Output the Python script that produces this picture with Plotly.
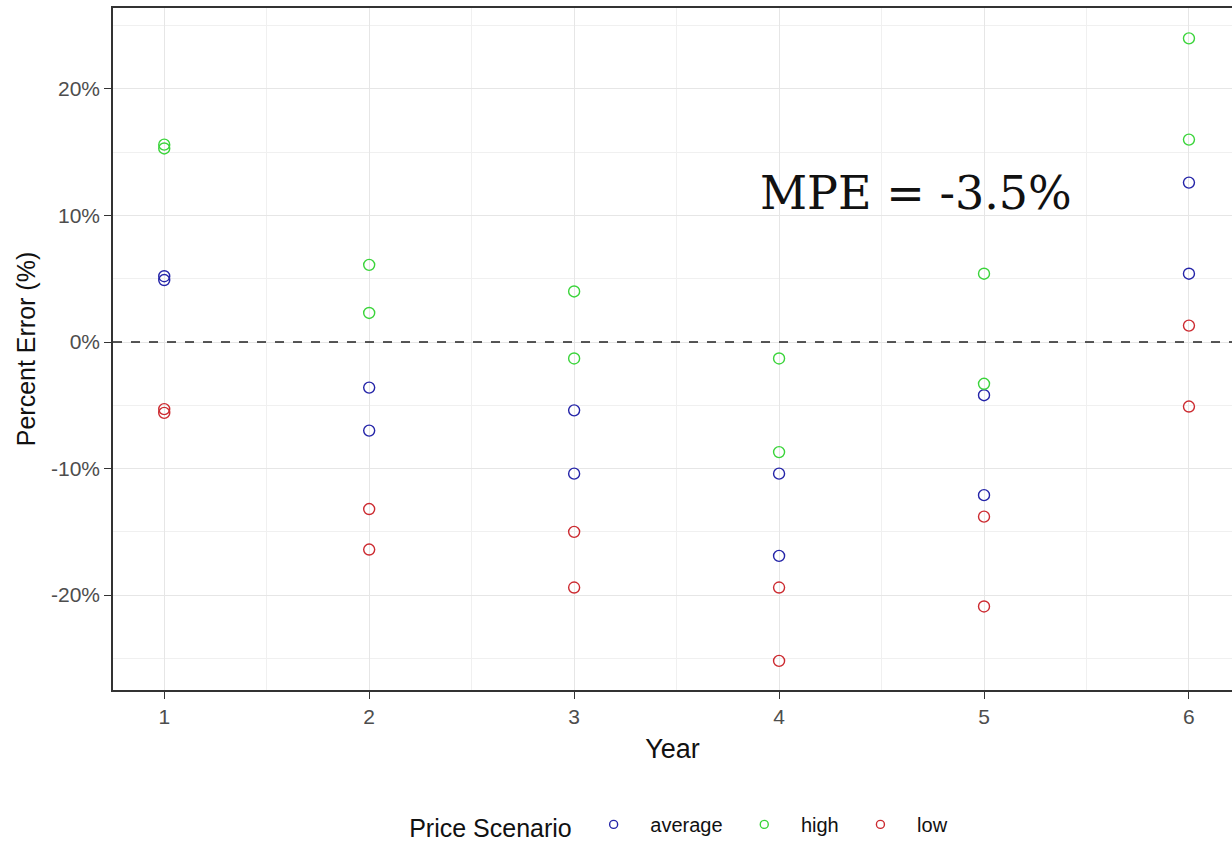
import plotly.graph_objects as go

# Percent error of the price forecast by year, for each price scenario
years_average = [1, 1, 2, 2, 3, 3, 4, 4, 5, 5, 6, 6]
err_average = [5.2, 4.9, -3.6, -7.0, -5.4, -10.4, -10.4, -16.9, -4.2, -12.1, 12.6, 5.4]

years_high = [1, 1, 2, 2, 3, 3, 4, 4, 5, 5, 6, 6]
err_high = [15.6, 15.3, 6.1, 2.3, 4.0, -1.3, -1.3, -8.7, 5.4, -3.3, 24.0, 16.0]

years_low = [1, 1, 2, 2, 3, 3, 4, 4, 5, 5, 6, 6]
err_low = [-5.3, -5.6, -13.2, -16.4, -15.0, -19.4, -19.4, -25.2, -13.8, -20.9, 1.3, -5.1]

x_ticks = [1, 2, 3, 4, 5, 6]
y_ticks = [-20, -10, 0, 10, 20]
y_tick_labels = ["-20%", "-10%", "0%", "10%", "20%"]
mpe_label = "MPE = -3.5%"

series = [
    ("average", years_average, err_average, "#2424a8"),
    ("high", years_high, err_high, "#3ad43a"),
    ("low", years_low, err_low, "#cc2a30"),
]

SANS = "Liberation Sans, Arial, sans-serif"
NBSP = "\u00a0"

fig = go.Figure()
for name, xs, ys, color in series:
    fig.add_trace(go.Scatter(
        x=xs, y=ys, mode="markers", name=name, legendgroup=name, showlegend=False,
        marker=dict(symbol="circle-open", size=11, color=color,
                    line=dict(width=1.4, color=color)),
    ))
    # smaller legend key for the same scenario
    fig.add_trace(go.Scatter(
        x=[None], y=[None], mode="markers", name=NBSP * 3 + name + NBSP * 3,
        legendgroup=name, showlegend=True,
        marker=dict(symbol="circle-open", size=8, color=color,
                    line=dict(width=1.4, color=color)),
    ))

# zero reference line
fig.add_hline(y=0, line=dict(color="#222222", width=1.4, dash="dash"))

fig.add_annotation(
    x=4.67, y=11.8, xref="x", yref="y", text=mpe_label, showarrow=False,
    font=dict(family="DejaVu Serif, Liberation Serif, serif", size=46, color="#111111"),
)

axis_font = dict(family=SANS, size=21, color="#4d4d4d")

fig.update_xaxes(
    range=[0.75, 6.21], tickvals=x_ticks, ticktext=[str(v) for v in x_ticks],
    tickfont=axis_font, ticks="outside", ticklen=7, tickcolor="#333333",
    showline=True, linecolor="#333333", linewidth=1.5, mirror=True,
    showgrid=True, gridcolor="#e6e6e6", gridwidth=1.2, zeroline=False,
    minor=dict(tickvals=[1.5, 2.5, 3.5, 4.5, 5.5], showgrid=True,
               gridcolor="#f0f0f0", gridwidth=0.8),
    title=dict(text="Year", font=dict(family=SANS, size=27, color="#111111"), standoff=12),
    automargin=False,
)
fig.update_yaxes(
    range=[-27.5, 26.4], tickvals=y_ticks, ticktext=y_tick_labels,
    tickfont=axis_font, ticks="outside", ticklen=7, tickcolor="#333333",
    showline=True, linecolor="#333333", linewidth=1.5, mirror=False,
    showgrid=True, gridcolor="#e6e6e6", gridwidth=1.2, zeroline=False,
    minor=dict(tickvals=[-25, -15, -5, 5, 15, 25], showgrid=True,
               gridcolor="#f0f0f0", gridwidth=0.8),
    title=dict(text="Percent Error (%)", font=dict(family=SANS, size=25, color="#111111"),
               standoff=8),
    automargin=False,
)

fig.update_layout(
    width=1232, height=844,
    margin=dict(l=113, r=0, t=8, b=154, autoexpand=False),
    paper_bgcolor="white", plot_bgcolor="white",
    showlegend=True,
    legend=dict(
        orientation="h", x=0.514, xanchor="center", y=-0.2, yanchor="middle",
        title=dict(text="Price Scenario" + NBSP * 2, font=dict(family=SANS, size=25, color="#111111")),
        font=dict(family=SANS, size=20, color="#111111"),
        itemwidth=30, traceorder="normal",
    ),
)

fig.write_html("out.html")
